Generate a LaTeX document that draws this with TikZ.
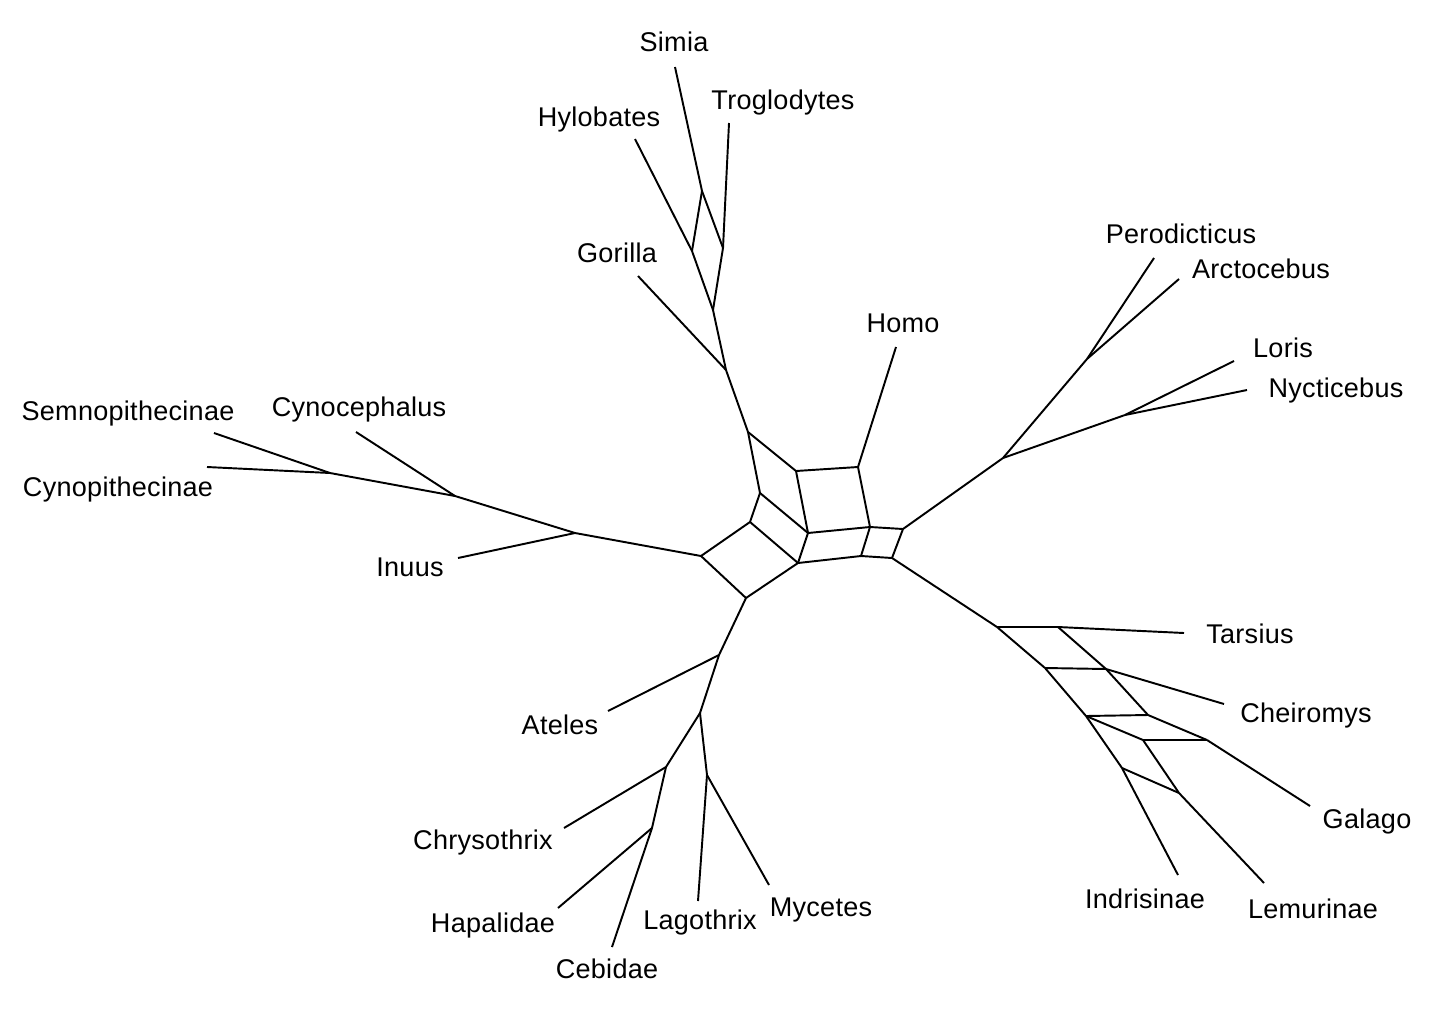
\documentclass[tikz,border=0pt]{standalone}
\usepackage{fontspec}
\setmainfont[LetterSpace=1]{Liberation Sans}
\usepackage{tikz}
\tikzset{
  taxon/.style={font=\fontsize{15.4}{18}\selectfont, inner sep=0pt,
                text height=11pt, text depth=0pt},
  edge/.style={line width=1.1pt, draw=black, line join=round}
}

\begin{document}
\begin{tikzpicture}[x=0.02cm, y=-0.02cm]
  \useasboundingbox (0,0) rectangle (1430,1011);

  %% Central splits network
  \coordinate (cA) at (748,432);  \coordinate (cB) at (796,471);
  \coordinate (cC) at (858,467);  \coordinate (cD) at (760,493);
  \coordinate (cE) at (808,533);  \coordinate (cF) at (870,527);
  \coordinate (cG) at (903,529);  \coordinate (cH) at (750,522);
  \coordinate (cI) at (701,556);  \coordinate (cJ) at (798,563);
  \coordinate (cK) at (861,556);  \coordinate (cL) at (892,558);
  \coordinate (cM) at (746,598);

  \draw[edge] (cA) -- (cB); \draw[edge] (cB) -- (cC); \draw[edge] (cC) -- (cF);
  \draw[edge] (cB) -- (cE); \draw[edge] (cA) -- (cD); \draw[edge] (cD) -- (cE);
  \draw[edge] (cD) -- (cH); \draw[edge] (cH) -- (cJ); \draw[edge] (cI) -- (cH);
  \draw[edge] (cI) -- (cM); \draw[edge] (cM) -- (cJ); \draw[edge] (cE) -- (cJ);
  \draw[edge] (cE) -- (cF); \draw[edge] (cF) -- (cG); \draw[edge] (cJ) -- (cK);
  \draw[edge] (cK) -- (cL); \draw[edge] (cF) -- (cK); \draw[edge] (cG) -- (cL);

  %% Apes
  \coordinate (ap1) at (726,370); \coordinate (ap2) at (713,310);
  \coordinate (ap3) at (692,251); \coordinate (ap4) at (723,248);
  \coordinate (ap5) at (702,191);
  \coordinate (t-gor) at (638,276); \coordinate (t-hyl) at (635,139);
  \coordinate (t-sim) at (675,67);  \coordinate (t-tro) at (729,123);

  \node[taxon] (gorilla) at (617,253) {Gorilla};
  \node[taxon] (hylobates) at (599,117) {Hylobates};
  \node[taxon] (simia) at (674,42) {Simia};
  \node[taxon] (troglodytes) at (783,100) {Troglodytes};

  \draw[edge] (cA) -- (ap1); \draw[edge] (ap1) -- (t-gor);
  \draw[edge] (ap1) -- (ap2); \draw[edge] (ap2) -- (ap3);
  \draw[edge] (ap2) -- (ap4); \draw[edge] (ap3) -- (ap5);
  \draw[edge] (ap4) -- (ap5); \draw[edge] (ap3) -- (t-hyl);
  \draw[edge] (ap5) -- (t-sim); \draw[edge] (ap4) -- (t-tro);

  %% Homo
  \coordinate (t-hom) at (896,347);
  \node[taxon] (homo) at (903,323) {Homo};
  \draw[edge] (cC) -- (t-hom);

  %% Lorises
  \coordinate (lo0) at (1003,458); \coordinate (lo1) at (1087,359);
  \coordinate (lo2) at (1125,415);
  \coordinate (t-per) at (1154,258); \coordinate (t-arc) at (1179,279);
  \coordinate (t-lor) at (1234,361); \coordinate (t-nyc) at (1247,390);

  \node[taxon] (perodicticus) at (1181,234) {Perodicticus};
  \node[taxon] (arctocebus) at (1261,269) {Arctocebus};
  \node[taxon] (loris) at (1283,348) {Loris};
  \node[taxon] (nycticebus) at (1336,388) {Nycticebus};

  \draw[edge] (cG) -- (lo0); \draw[edge] (lo0) -- (lo1); \draw[edge] (lo0) -- (lo2);
  \draw[edge] (lo1) -- (t-per); \draw[edge] (lo1) -- (t-arc);
  \draw[edge] (lo2) -- (t-lor); \draw[edge] (lo2) -- (t-nyc);

  %% Old World monkeys
  \coordinate (ow1) at (575,533); \coordinate (ow2) at (455,496);
  \coordinate (ow3) at (330,473);
  \coordinate (t-inu) at (458,558); \coordinate (t-cce) at (356,432);
  \coordinate (t-sem) at (214,433); \coordinate (t-cpi) at (207,467);

  \node[taxon] (inuus) at (410,567) {Inuus};
  \node[taxon] (cynocephalus) at (359,407) {Cynocephalus};
  \node[taxon] (semnopithecinae) at (128,411) {Semnopithecinae};
  \node[taxon] (cynopithecinae) at (118,487) {Cynopithecinae};

  \draw[edge] (cI) -- (ow1); \draw[edge] (ow1) -- (t-inu); \draw[edge] (ow1) -- (ow2);
  \draw[edge] (ow2) -- (t-cce); \draw[edge] (ow2) -- (ow3);
  \draw[edge] (ow3) -- (t-sem); \draw[edge] (ow3) -- (t-cpi);

  %% New World monkeys
  \coordinate (nw1) at (719,655); \coordinate (nw2) at (700,713);
  \coordinate (nw3) at (666,767); \coordinate (nw4) at (652,828);
  \coordinate (nw5) at (707,775);
  \coordinate (t-ate) at (608,711); \coordinate (t-chr) at (564,828);
  \coordinate (t-hap) at (558,908); \coordinate (t-ceb) at (612,947);
  \coordinate (t-lag) at (698,901); \coordinate (t-myc) at (769,885);

  \node[taxon] (ateles) at (560,725) {Ateles};
  \node[taxon] (chrysothrix) at (483,840) {Chrysothrix};
  \node[taxon] (hapalidae) at (493,923) {Hapalidae};
  \node[taxon] (cebidae) at (607,969) {Cebidae};
  \node[taxon] (lagothrix) at (700,920) {Lagothrix};
  \node[taxon] (mycetes) at (821,907) {Mycetes};

  \draw[edge] (cM) -- (nw1); \draw[edge] (nw1) -- (t-ate); \draw[edge] (nw1) -- (nw2);
  \draw[edge] (nw2) -- (nw3); \draw[edge] (nw3) -- (t-chr); \draw[edge] (nw3) -- (nw4);
  \draw[edge] (nw4) -- (t-hap); \draw[edge] (nw4) -- (t-ceb);
  \draw[edge] (nw2) -- (nw5); \draw[edge] (nw5) -- (t-lag); \draw[edge] (nw5) -- (t-myc);

  %% Tarsius and lemurs
  \coordinate (le1) at (997,627);  \coordinate (le2) at (1058,627);
  \coordinate (le3) at (1045,668); \coordinate (le4) at (1106,669);
  \coordinate (le5) at (1086,716); \coordinate (le6) at (1148,715);
  \coordinate (le7) at (1143,740); \coordinate (le8) at (1207,740);
  \coordinate (le9) at (1122,768); \coordinate (le10) at (1179,793);
  \coordinate (t-tar) at (1184,633); \coordinate (t-che) at (1224,704);
  \coordinate (t-gal) at (1310,806); \coordinate (t-ind) at (1178,875);
  \coordinate (t-lem) at (1264,883);

  \node[taxon] (tarsius) at (1250,634) {Tarsius};
  \node[taxon] (cheiromys) at (1306,713) {Cheiromys};
  \node[taxon] (galago) at (1367,819) {Galago};
  \node[taxon] (indrisinae) at (1145,899) {Indrisinae};
  \node[taxon] (lemurinae) at (1313,909) {Lemurinae};

  \draw[edge] (cL) -- (le1); \draw[edge] (le1) -- (le2); \draw[edge] (le2) -- (t-tar);
  \draw[edge] (le1) -- (le3); \draw[edge] (le2) -- (le4); \draw[edge] (le3) -- (le4);
  \draw[edge] (le4) -- (t-che);
  \draw[edge] (le3) -- (le5); \draw[edge] (le4) -- (le6); \draw[edge] (le5) -- (le6);
  \draw[edge] (le5) -- (le7); \draw[edge] (le6) -- (le8); \draw[edge] (le7) -- (le8);
  \draw[edge] (le8) -- (t-gal);
  \draw[edge] (le5) -- (le9); \draw[edge] (le7) -- (le10); \draw[edge] (le9) -- (le10);
  \draw[edge] (le9) -- (t-ind); \draw[edge] (le10) -- (t-lem);

\end{tikzpicture}
\end{document}
